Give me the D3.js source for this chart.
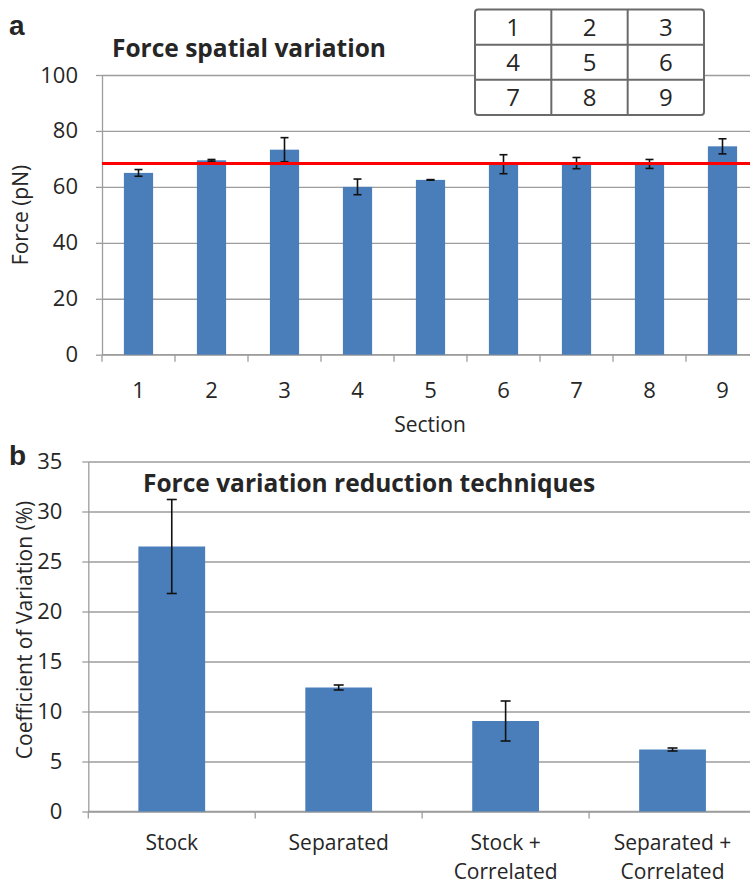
<!DOCTYPE html>
<html>
<head>
<meta charset="utf-8">
<script src="https://cdn.jsdelivr.net/npm/d3@7"></script>
<style>
  html, body { margin: 0; padding: 0; background: #fff; }
  svg { display: block; }
  text { font-family: "Open Sans", "DejaVu Sans", sans-serif; fill: #262626; }
</style>
</head>
<body>
<script>
// ---------- DATA ----------
const sections = ["1", "2", "3", "4", "5", "6", "7", "8", "9"];
const forceMeans = [65.0, 69.5, 73.3, 60.0, 62.5, 68.1, 68.5, 68.2, 74.5];
const forceErrors = [1.2, 0.3, 4.3, 2.8, 0.1, 3.4, 2.0, 1.6, 2.7];
const forceAverage = 68.4;
const forceTicks = [0, 20, 40, 60, 80, 100];
const insetGrid = [["1", "2", "3"], ["4", "5", "6"], ["7", "8", "9"]];

const techniques = [["Stock"], ["Separated"], ["Stock +", "Correlated"], ["Separated +", "Correlated"]];
const cvMeans = [26.5, 12.4, 9.05, 6.2];
const cvErrors = [4.7, 0.25, 2.0, 0.15];
const cvTicks = [0, 5, 10, 15, 20, 25, 30, 35];

// ---------- STYLE ----------
const W = 750, H = 886;
const barColor = "#4a7ebb";
const gridColor = "#9d9d9d";
const tickFont = 22;

const svg = d3.select("body").append("svg").attr("width", W).attr("height", H);
svg.append("rect").attr("width", W).attr("height", H).attr("fill", "#fff");

function panel(opts) {
  const { left, right, top, bottom, yDomain, yTickVals, cats, means, errs, capHalf, labelGap, ylabel, ylabelX, ylabelY } = opts;
  const g = svg.append("g");
  const x = d3.scaleBand().domain(cats.map((d, i) => i)).range([left, right]).paddingInner(0.6).paddingOuter(0.3);
  const y = d3.scaleLinear().domain(yDomain).range([bottom, top]);

  // gridlines
  const grid = g.append("g").attr("transform", `translate(${left},0)`)
    .call(d3.axisLeft(y).tickValues(yTickVals).tickSize(-(right - left)).tickFormat(""));
  grid.select(".domain").remove();
  grid.selectAll("line").attr("stroke", gridColor).attr("stroke-width", 1.3);

  // y axis with labels
  const ya = g.append("g").attr("transform", `translate(${left},0)`)
    .call(d3.axisLeft(y).tickValues(yTickVals).tickSize(6).tickPadding(labelGap).tickSizeOuter(0));
  ya.select(".domain").attr("stroke", gridColor).attr("stroke-width", 1.3);
  ya.selectAll("line").attr("stroke", gridColor).attr("stroke-width", 1.3);
  ya.selectAll("text").attr("font-size", tickFont).attr("fill", "#262626")
    .style("font-family", '"Open Sans", sans-serif');

  // bottom axis line + boundary ticks
  const step = x.step();
  const bounds = d3.range(cats.length + 1).map(i => left + i * step);
  g.append("line").attr("x1", left).attr("x2", right).attr("y1", bottom).attr("y2", bottom)
    .attr("stroke", gridColor).attr("stroke-width", 1.3);
  g.selectAll(".bt").data(bounds).join("line")
    .attr("x1", d => d).attr("x2", d => d).attr("y1", bottom).attr("y2", bottom + 7)
    .attr("stroke", gridColor).attr("stroke-width", 1.3);

  // bars
  g.selectAll(".bar").data(means).join("rect")
    .attr("x", (d, i) => x(i)).attr("width", x.bandwidth())
    .attr("y", d => y(d)).attr("height", d => bottom - y(d))
    .attr("fill", barColor);

  // error bars
  const eb = g.selectAll(".eb").data(means).join("g");
  eb.append("line")
    .attr("x1", (d, i) => x(i) + x.bandwidth() / 2).attr("x2", (d, i) => x(i) + x.bandwidth() / 2)
    .attr("y1", (d, i) => y(d + errs[i])).attr("y2", (d, i) => y(d - errs[i]))
    .attr("stroke", "#111").attr("stroke-width", 1.6);
  eb.append("line")
    .attr("x1", (d, i) => x(i) + x.bandwidth() / 2 - capHalf).attr("x2", (d, i) => x(i) + x.bandwidth() / 2 + capHalf)
    .attr("y1", (d, i) => y(d + errs[i])).attr("y2", (d, i) => y(d + errs[i]))
    .attr("stroke", "#111").attr("stroke-width", 1.6);
  eb.append("line")
    .attr("x1", (d, i) => x(i) + x.bandwidth() / 2 - capHalf).attr("x2", (d, i) => x(i) + x.bandwidth() / 2 + capHalf)
    .attr("y1", (d, i) => y(d - errs[i])).attr("y2", (d, i) => y(d - errs[i]))
    .attr("stroke", "#111").attr("stroke-width", 1.6);

  // category labels
  const cl = g.selectAll(".cl").data(cats).join("text")
    .attr("x", (d, i) => x(i) + x.bandwidth() / 2)
    .attr("y", opts.catBaseline)
    .attr("text-anchor", "middle").attr("font-size", opts.catFont);
  cl.each(function (d) {
    const lines = Array.isArray(d) ? d : [d];
    const t = d3.select(this);
    lines.forEach((s, k) => t.append("tspan").attr("x", t.attr("x")).attr("dy", k === 0 ? 0 : opts.lineGap).text(s));
  });

  // y label
  g.append("text")
    .attr("transform", `translate(${ylabelX},${ylabelY}) rotate(-90)`)
    .attr("text-anchor", "middle").attr("font-size", 21).text(ylabel);

  return { g, x, y };
}

// ---------- PANEL A ----------
const A = panel({
  left: 102, right: 759, top: 75, bottom: 354.7,
  yDomain: [0, 100], yTickVals: forceTicks,
  cats: sections, means: forceMeans, errs: forceErrors, capHalf: 4,
  labelGap: 18, catBaseline: 398, catFont: 22, lineGap: 30, ylabel: "Force (pN)", ylabelX: 28, ylabelY: 215
});
// average line
A.g.append("line").attr("x1", 102).attr("x2", 759)
  .attr("y1", A.y(forceAverage)).attr("y2", A.y(forceAverage))
  .attr("stroke", "#ff0000").attr("stroke-width", 3);
// x title
A.g.append("text").attr("x", 430).attr("y", 432).attr("text-anchor", "middle").attr("font-size", 21).text("Section");
// title
svg.append("text").attr("x", 112).attr("y", 57).attr("font-size", 24.5).attr("font-weight", "bold")
  .attr("fill", "#111").text("Force spatial variation");
svg.append("text").attr("x", 9).attr("y", 35).attr("font-size", 28).attr("font-weight", "bold")
  .style("font-family", '"Liberation Sans", Arial, sans-serif').attr("fill", "#000").text("a");

// inset table
const ix = d3.scaleBand().domain([0, 1, 2]).range([475, 704]);
const iy = d3.scaleBand().domain([0, 1, 2]).range([9.5, 115]);
const inset = svg.append("g");
inset.append("rect").attr("x", 475).attr("y", 9.5).attr("width", 229).attr("height", 105.5)
  .attr("rx", 3).attr("fill", "#fff").attr("stroke", "#6a6a6a").attr("stroke-width", 2);
[1, 2].forEach(k => {
  inset.append("line").attr("x1", ix(k)).attr("x2", ix(k)).attr("y1", 9.5).attr("y2", 115)
    .attr("stroke", "#6a6a6a").attr("stroke-width", 2);
  inset.append("line").attr("x1", 475).attr("x2", 704).attr("y1", iy(k)).attr("y2", iy(k))
    .attr("stroke", "#6a6a6a").attr("stroke-width", 2);
});
insetGrid.forEach((row, r) => row.forEach((v, c) => {
  inset.append("text").attr("x", ix(c) + ix.bandwidth() / 2).attr("y", iy(r) + iy.bandwidth() / 2)
    .attr("dy", "0.36em").attr("text-anchor", "middle").attr("font-size", 24).attr("fill", "#111").text(v);
}));

// ---------- PANEL B ----------
const B = panel({
  left: 88.3, right: 756, top: 461.5, bottom: 811.5,
  yDomain: [0, 35], yTickVals: cvTicks,
  cats: techniques, means: cvMeans, errs: cvErrors, capHalf: 5,
  labelGap: 20, catBaseline: 850, catFont: 21, lineGap: 29, ylabel: "Coefficient of Variation (%)", ylabelX: 32, ylabelY: 630
});
svg.append("text").attr("x", 143).attr("y", 491.5).attr("font-size", 24.5).attr("font-weight", "bold")
  .attr("fill", "#111").text("Force variation reduction techniques");
svg.append("text").attr("x", 9).attr("y", 465).attr("font-size", 28).attr("font-weight", "bold")
  .style("font-family", '"Liberation Sans", Arial, sans-serif').attr("fill", "#000").text("b");
</script>
</body>
</html>
